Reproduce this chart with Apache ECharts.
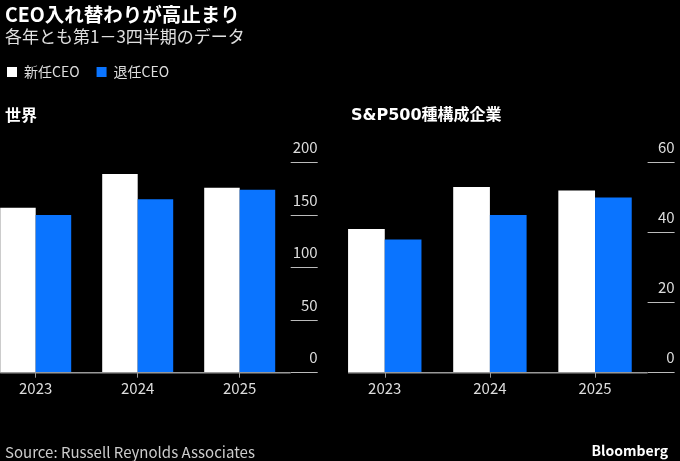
<!DOCTYPE html>
<html><head><meta charset="utf-8">
<script src="https://cdn.jsdelivr.net/npm/echarts@6/dist/echarts.min.js"></script>
<style>html,body{margin:0;background:#000}#c{width:680px;height:461px}</style>
</head><body><div id="c"></div>
<script>
const years = ['2023', '2024', '2025'];
const seriesNames = ['新任CEO', '退任CEO'];
const worldNew = [157, 189, 176];
const worldOut = [150, 165, 174];
const spNew = [41, 53, 52];
const spOut = [38, 45, 50];
const worldAxis = {min: 0, max: 200, interval: 50};
const spAxis = {min: 0, max: 60, interval: 20};

const FONT = '"Noto Sans CJK JP", "Noto Sans", sans-serif';
const WHITE = '#ffffff', BLUE = '#0a74ff';
const TICKLEN = 27;
const BW = [35.5, 36.7];

const chart = echarts.init(document.getElementById('c'), null, {renderer: 'canvas'});

function xAxis(gi) {
  return {
    type: 'category', gridIndex: gi, data: years,
    axisLine: {show: false},
    axisTick: {show: true, alignWithLabel: true, length: 5, lineStyle: {color: '#999', width: 1}},
    axisLabel: {color: '#dddddd', fontSize: 15, fontFamily: FONT, margin: 8}
  };
}
function yAxis(gi, ax) {
  return {
    type: 'value', gridIndex: gi, position: 'right', min: ax.min, max: ax.max, interval: ax.interval,
    axisLine: {show: false},
    splitLine: {show: false},
    axisTick: {show: true, length: TICKLEN, lineStyle: {color: '#bbbbbb', width: 1}},
    axisLabel: {color: '#dddddd', fontSize: 15, fontFamily: FONT, margin: TICKLEN, align: 'right',
      verticalAlign: 'bottom', lineHeight: 16, padding: [0, 0, 7, 0]}
  };
}
function bar(name, gi, data, color, bw) {
  return {
    name: name, type: 'bar', xAxisIndex: gi, yAxisIndex: gi, data: data, barWidth: bw, barGap: 0,
    itemStyle: {color: color}, emphasis: {disabled: true}, animation: false
  };
}

const option = {
  backgroundColor: '#000',
  animation: false,
  title: [
    {text: 'CEO入れ替わりが高止まり', left: 0, top: 0, textStyle: {color: '#fff', fontSize: 19.5, fontWeight: 'bold', fontFamily: FONT}},
    {text: '各年とも第1－3四半期のデータ', left: 0, top: 23, textStyle: {color: '#e0e0e0', fontSize: 17, fontWeight: 'normal', fontFamily: FONT}},
    {text: '世界', left: 0, top: 102, textStyle: {color: '#fff', fontSize: 16, fontWeight: 'bold', fontFamily: FONT}},
    {text: 'S&P500種構成企業', left: 346, top: 103, textStyle: {color: '#fff', fontSize: 16, fontWeight: 'bold', fontFamily: '"DejaVu Sans", "Noto Sans CJK JP", sans-serif'}},
    {text: 'Source: Russell Reynolds Associates', left: 0, top: 440, textStyle: {color: '#cccccc', fontSize: 15, fontWeight: 'normal', fontFamily: FONT}},
    {text: 'Bloomberg', right: 7, top: 439, textStyle: {color: '#fff', fontSize: 14, fontWeight: 'bold', fontFamily: FONT}}
  ],
  legend: {
    data: seriesNames, left: 2, top: 60, icon: 'rect', itemWidth: 10, itemHeight: 10, itemGap: 17,
    textStyle: {color: '#dddddd', fontSize: 14, fontFamily: FONT, padding: [0, 0, 0, 2]},
    selectedMode: false
  },
  grid: [
    {left: -15.3, width: 306, top: 162.5, bottom: 88.3, containLabel: false, outerBoundsMode: 'none'},
    {left: 332.2, width: 315.4, top: 162.5, bottom: 88.3, containLabel: false, outerBoundsMode: 'none'}
  ],
  xAxis: [xAxis(0), xAxis(1)],
  yAxis: [yAxis(0, worldAxis), yAxis(1, spAxis)],
  series: [
    bar(seriesNames[0], 0, worldNew, WHITE, BW[0]),
    bar(seriesNames[1], 0, worldOut, BLUE, BW[0]),
    bar(seriesNames[0], 1, spNew, WHITE, BW[1]),
    bar(seriesNames[1], 1, spOut, BLUE, BW[1])
  ]
};
chart.setOption(option);

// baseline: from the first bar's left edge to the grid's right edge (tick at 0 continues it)
const lines = [];
[0, 1].forEach(function (gi) {
  const p0 = chart.convertToPixel({gridIndex: gi}, [0, 0]);
  const p2 = chart.convertToPixel({gridIndex: gi}, [2, 0]);
  const band = (p2[0] - p0[0]) / 2;
  const gridRight = p2[0] + band / 2;
  lines.push({
    type: 'line', z: 10,
    shape: {x1: p0[0] - BW[gi], y1: p0[1], x2: gridRight, y2: p0[1]},
    style: {stroke: '#999999', lineWidth: 1.5}
  });
});
chart.setOption({graphic: lines});
</script></body></html>
